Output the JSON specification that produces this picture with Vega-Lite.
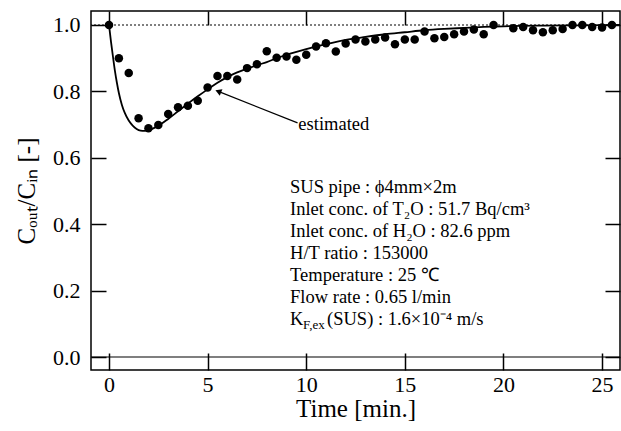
{
  "$schema": "https://vega.github.io/schema/vega-lite/v6.json",
  "width": 529,
  "height": 359,
  "autosize": {"type": "none"},
  "padding": {"left": 91, "top": 11, "right": 1, "bottom": 61},
  "background": "white",
  "config": {
    "font": "Liberation Serif",
    "view": {"stroke": "black", "strokeWidth": 1.5},
    "axis": {
      "grid": false,
      "domain": false,
      "tickColor": "black",
      "tickWidth": 1.5,
      "labelColor": "black",
      "titleColor": "black",
      "labelFont": "Liberation Serif",
      "titleFont": "Liberation Serif",
      "labelFontSize": 22,
      "titleFontSize": 25,
      "titleFontWeight": "normal"
    }
  },
  "datasets": {
    "measured": [
      {"t": 0, "ratio": 1.0}, {"t": 0.5, "ratio": 0.9}, {"t": 1.0, "ratio": 0.855},
      {"t": 1.5, "ratio": 0.719}, {"t": 2.0, "ratio": 0.689}, {"t": 2.5, "ratio": 0.699},
      {"t": 3.0, "ratio": 0.732}, {"t": 3.5, "ratio": 0.752}, {"t": 4.0, "ratio": 0.757},
      {"t": 4.5, "ratio": 0.772}, {"t": 5.0, "ratio": 0.812}, {"t": 5.5, "ratio": 0.846},
      {"t": 6.0, "ratio": 0.846}, {"t": 6.5, "ratio": 0.836}, {"t": 7.0, "ratio": 0.87},
      {"t": 7.5, "ratio": 0.882}, {"t": 8.0, "ratio": 0.921}, {"t": 8.5, "ratio": 0.901},
      {"t": 9.0, "ratio": 0.905}, {"t": 9.5, "ratio": 0.895}, {"t": 10.0, "ratio": 0.91},
      {"t": 10.5, "ratio": 0.935}, {"t": 11.0, "ratio": 0.945}, {"t": 11.5, "ratio": 0.92},
      {"t": 12.0, "ratio": 0.944}, {"t": 12.5, "ratio": 0.956}, {"t": 13.0, "ratio": 0.95},
      {"t": 13.5, "ratio": 0.956}, {"t": 14.0, "ratio": 0.962}, {"t": 14.5, "ratio": 0.942},
      {"t": 15.0, "ratio": 0.956}, {"t": 15.5, "ratio": 0.956}, {"t": 16.0, "ratio": 0.98},
      {"t": 16.5, "ratio": 0.96}, {"t": 17.0, "ratio": 0.964}, {"t": 17.5, "ratio": 0.972},
      {"t": 18.0, "ratio": 0.98}, {"t": 18.5, "ratio": 0.986}, {"t": 19.0, "ratio": 0.972},
      {"t": 19.5, "ratio": 1.0}, {"t": 20.5, "ratio": 0.99}, {"t": 21.0, "ratio": 0.994},
      {"t": 21.5, "ratio": 0.984}, {"t": 22.0, "ratio": 0.978}, {"t": 22.5, "ratio": 0.984},
      {"t": 23.0, "ratio": 0.988}, {"t": 23.5, "ratio": 1.0}, {"t": 24.0, "ratio": 1.0},
      {"t": 24.5, "ratio": 0.994}, {"t": 25.0, "ratio": 0.992}, {"t": 25.5, "ratio": 1.0}
    ],
    "estimated": [
      {"t": 0, "ratio": 1.0}, {"t": 0.1, "ratio": 0.95}, {"t": 0.2, "ratio": 0.905},
      {"t": 0.3, "ratio": 0.862}, {"t": 0.4, "ratio": 0.826}, {"t": 0.5, "ratio": 0.795},
      {"t": 0.65, "ratio": 0.76}, {"t": 0.8, "ratio": 0.735}, {"t": 1.0, "ratio": 0.712},
      {"t": 1.2, "ratio": 0.697}, {"t": 1.4, "ratio": 0.687}, {"t": 1.6, "ratio": 0.682},
      {"t": 1.8, "ratio": 0.681}, {"t": 2.0, "ratio": 0.683}, {"t": 2.3, "ratio": 0.69},
      {"t": 2.6, "ratio": 0.7}, {"t": 3.0, "ratio": 0.717}, {"t": 3.5, "ratio": 0.74},
      {"t": 4.0, "ratio": 0.763}, {"t": 4.5, "ratio": 0.785}, {"t": 5.0, "ratio": 0.806},
      {"t": 5.5, "ratio": 0.826}, {"t": 6.0, "ratio": 0.843}, {"t": 6.5, "ratio": 0.857},
      {"t": 7.0, "ratio": 0.868}, {"t": 7.5, "ratio": 0.879}, {"t": 8.0, "ratio": 0.888},
      {"t": 8.5, "ratio": 0.9}, {"t": 9.0, "ratio": 0.91}, {"t": 10.0, "ratio": 0.927},
      {"t": 11.0, "ratio": 0.942}, {"t": 12.0, "ratio": 0.955}, {"t": 13.0, "ratio": 0.964},
      {"t": 14.0, "ratio": 0.972}, {"t": 15.0, "ratio": 0.978}, {"t": 16.0, "ratio": 0.984},
      {"t": 17.0, "ratio": 0.988}, {"t": 18.0, "ratio": 0.991}, {"t": 19.0, "ratio": 0.994},
      {"t": 20.0, "ratio": 0.996}, {"t": 22.0, "ratio": 0.998}, {"t": 24.0, "ratio": 0.999},
      {"t": 26.0, "ratio": 1.0}
    ]
  },
  "resolve": {"axis": {"x": "independent", "y": "independent"}},
  "layer": [
    {
      "description": "reference levels at C/C0 = 0 (solid) and 1 (dotted)",
      "data": {"values": [{"level": 0, "dash": "solid"}, {"level": 1, "dash": "dotted"}]},
      "mark": {"type": "rule", "color": "black", "strokeWidth": 1.1},
      "encoding": {
        "y": {"field": "level", "type": "quantitative", "scale": {"domain": [-0.039, 1.042], "nice": false, "zero": false}, "axis": null},
        "strokeDash": {"field": "dash", "type": "nominal", "scale": {"domain": ["solid", "dotted"], "range": [[1, 0], [2, 2]]}, "legend": null}
      }
    },
    {
      "description": "model curve with the bottom and left axes",
      "data": {"name": "estimated"},
      "mark": {"type": "line", "color": "black", "strokeWidth": 1.8, "interpolate": "monotone", "clip": true},
      "encoding": {
        "x": {
          "field": "t", "type": "quantitative",
          "scale": {"domain": [-0.913, 25.91], "nice": false, "zero": false},
          "axis": {"orient": "bottom", "values": [0, 5, 10, 15, 20, 25], "format": "d", "tickSize": -17, "labelPadding": 21, "title": "Time [min.]", "titlePadding": 1}
        },
        "y": {
          "field": "ratio", "type": "quantitative",
          "scale": {"domain": [-0.039, 1.042], "nice": false, "zero": false},
          "axis": {"orient": "left", "values": [0, 0.2, 0.4, 0.6, 0.8, 1.0], "format": ".1f", "tickSize": -15, "labelPadding": 26, "title": "Cₒᵤₜ/Cᵢₙ [-]", "titlePadding": 13}
        }
      }
    },
    {
      "description": "measured outlet ratio, carrying the top and right tick axes",
      "data": {"name": "measured"},
      "mark": {"type": "point", "filled": true, "color": "black", "opacity": 1, "size": 72, "clip": true},
      "encoding": {
        "x": {
          "field": "t", "type": "quantitative",
          "scale": {"domain": [-0.913, 25.91], "nice": false, "zero": false},
          "axis": {"orient": "top", "values": [0, 5, 10, 15, 20, 25], "labels": false, "tickSize": -14, "title": null}
        },
        "y": {
          "field": "ratio", "type": "quantitative",
          "scale": {"domain": [-0.039, 1.042], "nice": false, "zero": false},
          "axis": {"orient": "right", "values": [0, 0.2, 0.4, 0.6, 0.8, 1.0], "labels": false, "tickSize": -15, "title": null}
        }
      }
    },
    {
      "description": "leader line from the label to the curve",
      "data": {"values": [{}]},
      "mark": {"type": "rule", "color": "black", "strokeWidth": 1.2},
      "encoding": {
        "x": {"datum": 9.56, "type": "quantitative", "axis": null},
        "y": {"datum": 0.705, "type": "quantitative", "axis": null},
        "x2": {"datum": 5.54},
        "y2": {"datum": 0.8}
      }
    },
    {
      "description": "arrowhead",
      "data": {"values": [{}]},
      "mark": {"type": "point", "shape": "triangle-up", "filled": true, "color": "black", "opacity": 1, "size": 50, "angle": 292},
      "encoding": {
        "x": {"datum": 5.54, "type": "quantitative", "axis": null},
        "y": {"datum": 0.8, "type": "quantitative", "axis": null}
      }
    },
    {
      "data": {"values": [{}]},
      "mark": {"type": "text", "text": "estimated", "align": "left", "baseline": "middle", "fontSize": 18.5, "color": "black"},
      "encoding": {
        "x": {"datum": 9.6, "type": "quantitative", "axis": null},
        "y": {"datum": 0.702, "type": "quantitative", "axis": null}
      }
    },
    {
      "description": "experimental conditions",
      "data": {"values": [{}]},
      "mark": {
        "type": "text", "align": "left", "baseline": "alphabetic", "fontSize": 18.5, "lineHeight": 22, "color": "black",
        "text": [
          "SUS pipe : ϕ4mm×2m",
          "Inlet conc. of T₂O : 51.7 Bq/cm³",
          "Inlet conc. of H₂O : 82.6 ppm",
          "H/T ratio : 153000",
          "Temperature : 25 ℃",
          "Flow rate : 0.65 l/min"
        ]
      },
      "encoding": {
        "x": {"datum": 9.18, "type": "quantitative", "axis": null},
        "y": {"datum": 0.494, "type": "quantitative", "axis": null}
      }
    },
    {
      "data": {"values": [{}]},
      "mark": {"type": "text", "text": "K", "align": "left", "baseline": "alphabetic", "fontSize": 18.5, "color": "black"},
      "encoding": {
        "x": {"datum": 9.18, "type": "quantitative", "axis": null},
        "y": {"datum": 0.096, "type": "quantitative", "axis": null}
      }
    },
    {
      "data": {"values": [{}]},
      "mark": {"type": "text", "text": "F,ex", "align": "left", "baseline": "alphabetic", "fontSize": 13, "dx": 13, "dy": 4, "color": "black"},
      "encoding": {
        "x": {"datum": 9.18, "type": "quantitative", "axis": null},
        "y": {"datum": 0.096, "type": "quantitative", "axis": null}
      }
    },
    {
      "data": {"values": [{}]},
      "mark": {"type": "text", "text": "(SUS) : 1.6×10⁻⁴ m/s", "align": "left", "baseline": "alphabetic", "fontSize": 18.5, "dx": 37, "color": "black"},
      "encoding": {
        "x": {"datum": 9.18, "type": "quantitative", "axis": null},
        "y": {"datum": 0.096, "type": "quantitative", "axis": null}
      }
    }
  ]
}
